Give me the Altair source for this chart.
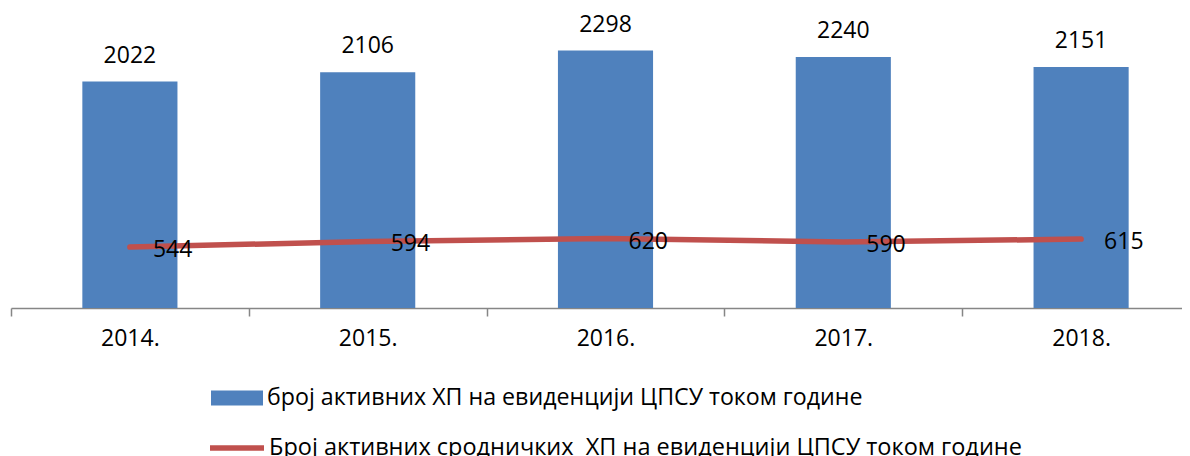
import altair as alt
import pandas as pd

years = ["2014.", "2015.", "2016.", "2017.", "2018."]
active = [2022, 2106, 2298, 2240, 2151]
kin = [544, 594, 620, 590, 615]
series_bar = "број активних ХП на евиденцији ЦПСУ током године"
series_line = "Број активних сродничких \u00a0ХП на евиденцији ЦПСУ током године"

df = pd.DataFrame({
    "year": years,
    "active": active,
    "kin": kin,
    "s1": [series_bar] * len(years),
    "s2": [series_line] * len(years),
})

FONT = "Open Sans"
BLUE = "#4F81BD"
RED = "#C0504D"

x = alt.X(
    "year:N",
    sort=years,
    title=None,
    scale=alt.Scale(range=[0, 1189], paddingInner=0, paddingOuter=0),
    axis=alt.Axis(
        tickBand="extent",
        domainColor="#868686",
        tickColor="#868686",
        domainWidth=1.5,
        tickWidth=1.5,
        tickSize=8,
        labelFontSize=23,
        labelFont=FONT,
        labelColor="#000000",
        labelPadding=11,
        labelAngle=0,
        grid=False,
    ),
)
yscale = alt.Scale(domain=[0, 2500])

base = alt.Chart(df)

bars = base.mark_bar(color=BLUE, width=alt.RelativeBandSize(0.4)).encode(
    x=x,
    y=alt.Y("active:Q", scale=yscale, axis=None),
    color=alt.Color(
        "s1:N",
        scale=alt.Scale(domain=[series_bar], range=[BLUE]),
        legend=alt.Legend(
            title=None,
            orient="none",
            legendX=200,
            legendY=344,
            symbolType="M-1,-0.29H1V0.29H-1Z",
            symbolSize=2704,
            symbolStrokeWidth=0,
            symbolOpacity=1,
            labelFont=FONT,
            labelFontSize=23.2,
            labelColor="#000000",
            labelOffset=4,
            labelLimit=2000,
            padding=0,
        ),
    ),
)

bar_labels = base.mark_text(
    font=FONT, fontSize=23, color="#000000", baseline="alphabetic", dy=-19
).encode(
    x=x,
    y=alt.Y("active:Q", scale=yscale, axis=None),
    text=alt.Text("active:Q"),
)

line = base.mark_line(strokeWidth=5.5, strokeCap="round").encode(
    x=x,
    y=alt.Y("kin:Q", scale=yscale, axis=None),
    stroke=alt.Stroke(
        "s2:N",
        scale=alt.Scale(domain=[series_line], range=[RED]),
        legend=alt.Legend(
            title=None,
            orient="none",
            legendX=196,
            legendY=390,
            symbolType="stroke",
            symbolSize=2916,
            symbolStrokeWidth=5.5,
            labelFont=FONT,
            labelFontSize=23.5,
            labelColor="#000000",
            labelOffset=2,
            labelLimit=2000,
            padding=0,
        ),
    ),
)

line_labels = base.mark_text(
    font=FONT, fontSize=23, color="#000000", align="left", baseline="middle", dx=23, dy=3
).encode(
    x=x,
    y=alt.Y("kin:Q", scale=yscale, axis=None),
    text=alt.Text("kin:Q"),
)

chart = (
    alt.layer(bars, line, bar_labels, line_labels)
    .properties(
        width=1171,
        height=280,
        background="white",
        autosize=alt.AutoSizeParams(type="none"),
        padding={"left": 3, "top": 20, "right": 0, "bottom": 148},
    )
    .configure_view(stroke="transparent", strokeWidth=0)
)

chart.save("out.html", embed_options={"renderer": "svg", "actions": False})
